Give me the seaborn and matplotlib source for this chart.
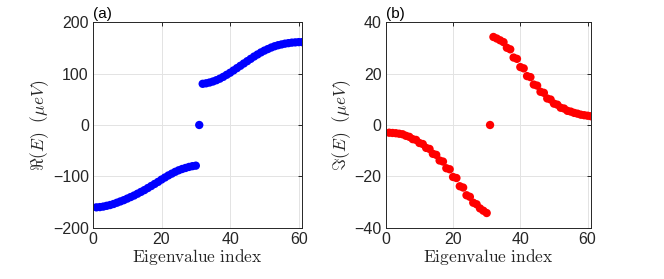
import numpy as np
import pandas as pd
import matplotlib
matplotlib.use("Agg")
import matplotlib.pyplot as plt
import seaborn as sns

# ---- data ----
index = list(range(1, 62))
real_part = [
    -160, -159.5, -158.5, -157, -155.5, -153.5, -151, -148.5, -146, -143,
    -140, -137, -133.5, -130, -126.5, -122.5, -118.5, -114.5, -110.5, -106,
    -102, -98, -94.5, -91, -88, -85.5, -83.5, -81.5, -80, -79,
    0,
    80, 81, 82.5, 84.5, 87, 90, 93.5, 97.5, 101.5, 106,
    110.5, 115, 119.5, 124, 128.5, 133, 137, 141, 144.5, 147.5,
    150.5, 153, 155, 156.5, 158, 159, 160, 160.5, 161, 161,
]
imag_part = [
    -3.0, -3.1, -3.2, -3.4, -3.6, -4.2, -4.6, -5.5, -5.8, -7.0,
    -7.4, -8.9, -9.3, -11.2, -11.6, -13.8, -14.2, -16.8, -17.2, -20.2,
    -20.6, -23.8, -24.3, -27.3, -27.9, -30.2, -30.8, -32.4, -33.3, -34.2,
    0,
    34.2, 33.6, 32.9, 32.2, 30.0, 29.4, 26.2, 25.7, 22.5, 22.0,
    19.0, 18.6, 15.7, 15.3, 12.9, 12.5, 10.3, 9.9, 8.3, 7.9,
    6.7, 6.4, 5.5, 5.2, 4.7, 4.4, 4.0, 3.8, 3.6, 3.4,
]
x_ticks = [0, 20, 40, 60]
real_ticks = [-200, -100, 0, 100, 200]
imag_ticks = [-40, -20, 0, 20, 40]

df = pd.DataFrame({"idx": index, "re": real_part, "im": imag_part})

sns.set_style("white")
plt.rcParams["font.family"] = ["Liberation Sans", "DejaVu Sans"]
plt.rcParams["mathtext.fontset"] = "cm"

fig = plt.figure(figsize=(6.64, 2.79), dpi=100)
ax1 = fig.add_axes([0.140, 0.183, 0.315, 0.738])
ax2 = fig.add_axes([0.581, 0.183, 0.309, 0.738])

sns.scatterplot(data=df, x="idx", y="re", ax=ax1, color=(0, 0, 1),
                s=36, linewidth=0, edgecolor="none")
sns.scatterplot(data=df, x="idx", y="im", ax=ax2, color=(1, 0, 0),
                s=36, linewidth=0, edgecolor="none")

for ax, yt, lab, panel in [
    (ax1, real_ticks, r"$\Re(E)\ \ (\mu eV)$", "(a)"),
    (ax2, imag_ticks, r"$\Im(E)\ \ (\mu eV)$", "(b)"),
]:
    ax.set_xlim(0, 61)
    ax.set_ylim(yt[0], yt[-1])
    ax.set_xticks(x_ticks)
    ax.set_yticks(yt)
    ax.grid(True, color="#e3e3e3", linewidth=0.7)
    ax.set_axisbelow(True)
    for s in ax.spines.values():
        s.set_color("#262626")
        s.set_linewidth(0.7)
    ax.tick_params(direction="in", length=3, width=0.7, top=True, right=True,
                   labelsize=11.5, colors="#262626", pad=3)
    ax.set_xlabel(r"$\mathrm{Eigenvalue\ index}$", fontsize=12.5, labelpad=0)
    ax.set_ylabel(lab, fontsize=12.5, labelpad=1)
    ax.text(0.0, 1.005, panel, transform=ax.transAxes, fontsize=11,
            ha="left", va="bottom", color="#000000")

fig.savefig("out.png", dpi=100)
